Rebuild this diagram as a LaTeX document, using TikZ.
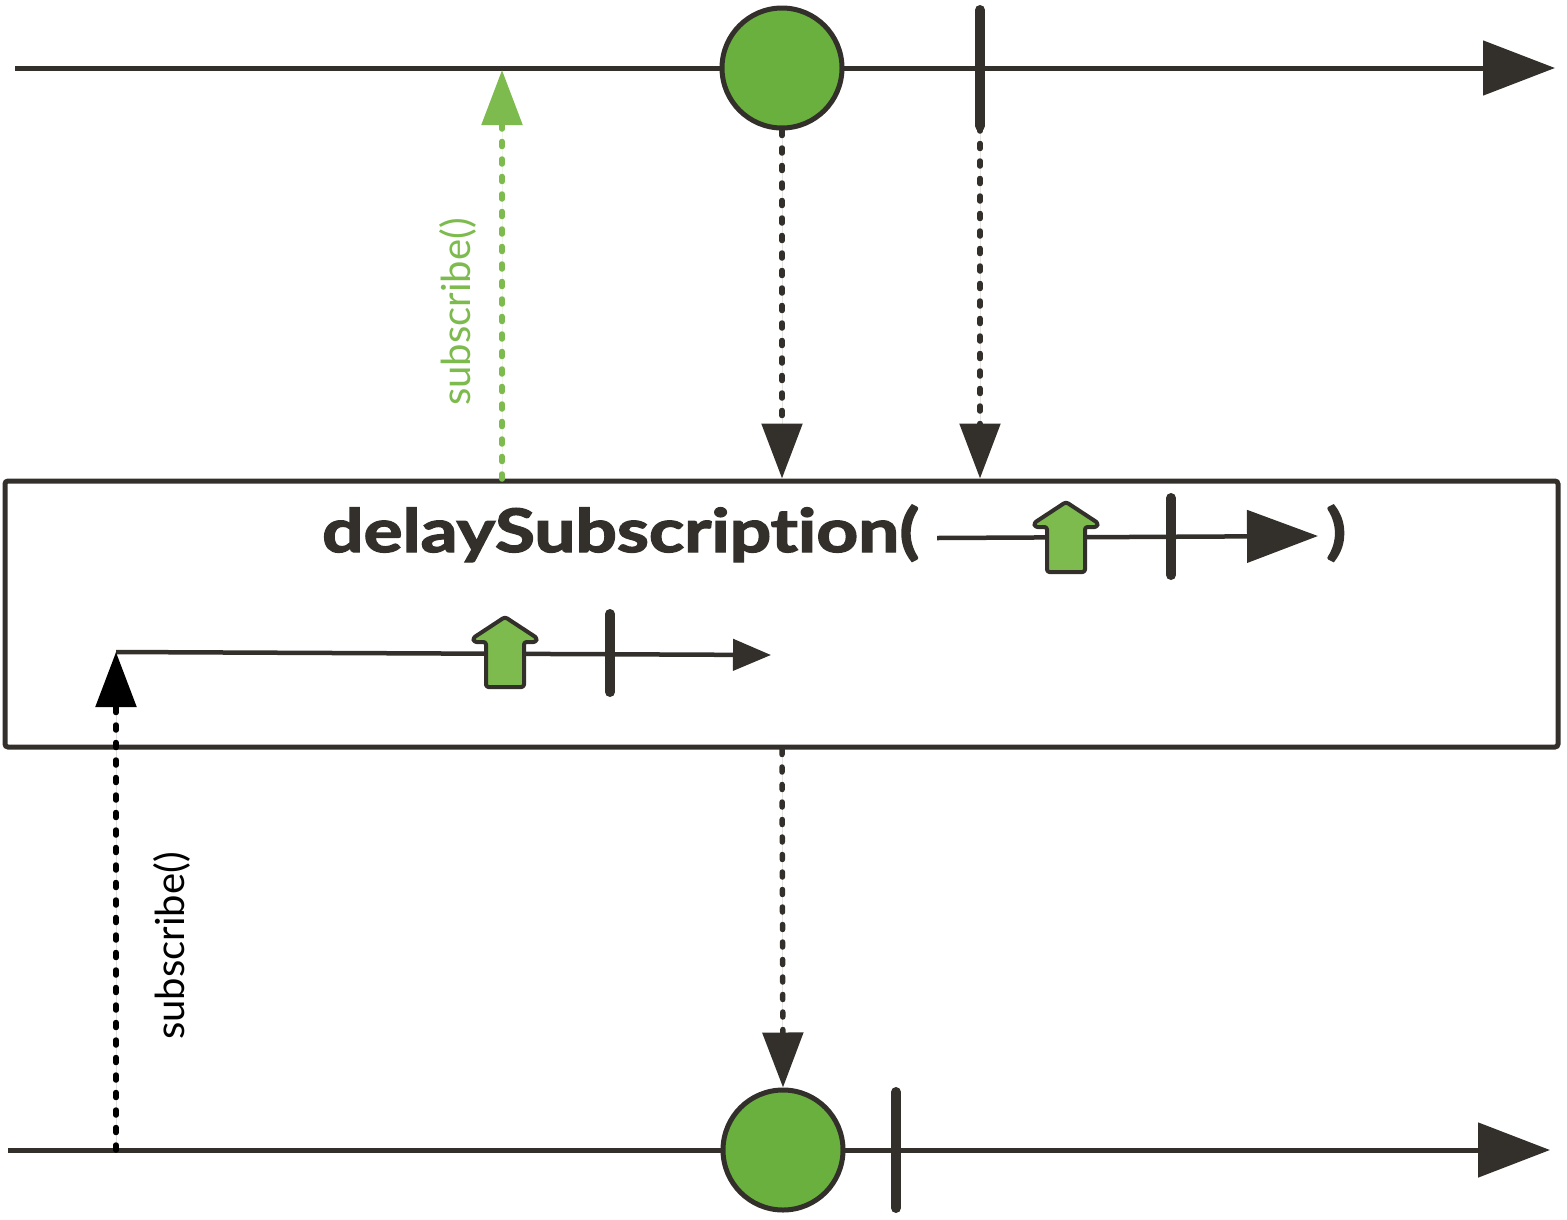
\documentclass[tikz,border=0pt]{standalone}
\usepackage{fontspec}
\setmainfont{Lato}
\newfontfamily\opfont{Lato Bold}[FakeBold=2.2]
\usetikzlibrary{arrows.meta}
\definecolor{ink}{HTML}{33302B}
\definecolor{ballgreen}{HTML}{6AB03E}
\definecolor{lightgreen}{HTML}{7DBB4E}
\tikzset{
  timeline/.style={draw=ink, line width=5pt, -{Triangle[length=72pt,width=54pt]}},
  innerline/.style={draw=ink, line width=4.5pt},
  ball/.style={circle, draw=ink, fill=ballgreen, line width=5pt, minimum size=120pt, inner sep=0pt},
  tickmark/.style={draw=ink, line width=10pt, line cap=round},
  dotline/.style={line width=5.5pt, line cap=round, dash pattern=on 5pt off 12.5pt},
  dothead/.style={-{Triangle[length=55pt,width=40pt]}},
  sublabel/.style={rotate=90, font=\fontsize{40}{46}\selectfont, inner sep=0pt},
  optext/.style={inner sep=0pt, text=ink, font=\fontsize{60}{70}\selectfont\opfont},
  greenup/.pic={
    \filldraw[fill=lightgreen, draw=ink, line width=4pt, line join=round, rounded corners=2.5pt]
      (0,0) -- (32,21) -- (31,25) -- (19,25) -- (19,70) -- (-19,70) -- (-19,25) -- (-31,25) -- (-32,21) -- cycle;
  }
}
\begin{document}
\begin{tikzpicture}[x=1pt,y=-1pt]
\useasboundingbox (0,0) rectangle (1567,1219);
% top timeline
\coordinate (t1s) at (15,68);
\coordinate (t1e) at (1555,68);
\draw[timeline] (t1s) -- (t1e);
\node[ball] (c1) at (782,68) {};
\coordinate (k1a) at (980,10);
\coordinate (k1b) at (980,126);
\draw[tickmark] (k1a) -- (k1b);
% box
\node[draw=ink, line width=5pt, rounded corners=3pt, minimum width=1553pt, minimum height=266pt, inner sep=0pt] (box) at (781.5,614) {};
% operator label
\node[optext, anchor=base west] (op) at (322,552) {\scalebox{1.215}[1]{delaySubscript\kern0pt ion(}};
\coordinate (a1s) at (937,538);
\coordinate (a1e) at (1318,536);
\draw[innerline, -{Triangle[length=71pt,width=52pt]}] (a1s) -- (a1e);
\pic at (1066,502) {greenup};
\coordinate (k2a) at (1171,498);
\coordinate (k2b) at (1171,575);
\draw[tickmark] (k2a) -- (k2b);
\node[optext, anchor=base west] (cp) at (1326,552) {\scalebox{1.215}[1]{)}};
% inner result timeline
\coordinate (a2s) at (116,652);
\coordinate (a2e) at (771,655);
\draw[innerline, -{Triangle[length=38pt,width=31pt]}] (a2s) -- (a2e);
\pic at (505,617) {greenup};
\coordinate (k3a) at (610,614);
\coordinate (k3b) at (610,692);
\draw[tickmark] (k3a) -- (k3b);
% bottom timeline
\coordinate (t2s) at (8,1150);
\coordinate (t2e) at (1550,1150);
\draw[timeline] (t2s) -- (t2e);
\node[ball] (c2) at (783,1150) {};
\coordinate (k4a) at (896,1092);
\coordinate (k4b) at (896,1208);
\draw[tickmark] (k4a) -- (k4b);
% subscribe arrows
\coordinate (g1) at (502,479);
\coordinate (g2) at (502,70);
\draw[dotline, dothead, draw=lightgreen, fill=lightgreen] (g1) -- (g2);
\node[sublabel, text=lightgreen] (gl) at (458,312) {subscribe()};
\coordinate (b1) at (116,1150);
\draw[dotline, dothead, draw=black, fill=black] (b1) -- (a2s);
\node[sublabel, text=black] (bl) at (172,946) {subscribe()};
% emission arrows
\draw[dotline, dothead, draw=ink, fill=ink] (c1.south) -- (c1.south |- box.north);
\draw[dotline, dothead, draw=ink, fill=ink] (k1b) -- (k1b |- box.north);
\draw[dotline, dothead, draw=ink, fill=ink] (c1.south |- box.south) -- (c2.north);
\end{tikzpicture}
\end{document}
